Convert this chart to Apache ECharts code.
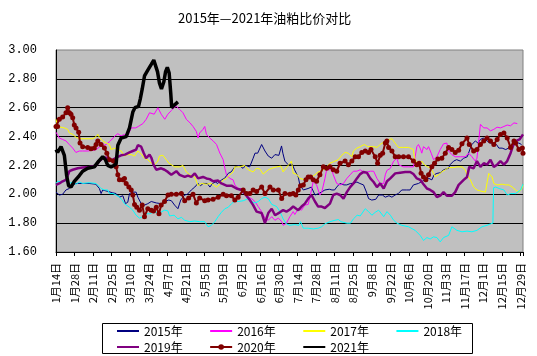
<!DOCTYPE html>
<html><head><meta charset="utf-8">
<script src="https://cdn.jsdelivr.net/npm/echarts/dist/echarts.min.js"></script>
<style>html,body{margin:0;padding:0;background:#fff}#c{width:537px;height:356px}</style>
</head><body><div id="c"></div>
<script>
// x values are days counted from 1月14日 (leap-year calendar), ticks every 14 days
const tickLabels = ['1月14日','1月28日','2月11日','2月25日','3月10日','3月24日','4月7日','4月21日','5月5日','5月19日','6月2日','6月16日','6月30日','7月14日','7月28日','8月11日','8月25日','9月8日','9月22日','10月6日','10月20日','11月3日','11月17日','12月1日','12月15日','12月29日'];
const yTicks = [1.6, 1.8, 2.0, 2.2, 2.4, 2.6, 2.8, 3.0];
const names = ['2015年','2016年','2017年','2018年','2019年','2020年','2021年'];

const s2015 = [[0,2.015],[2.5,1.995],[5,2.0],[7.5,2.03],[10,2.04],[12.6,2.065],[15,2.075],[20,2.075],[25,2.075],[30,2.07],[32.7,2.04],[34,2.005],[35.2,2.03],[39,2.02],[42.8,2.01],[45.3,2.005],[47.8,1.98],[50.4,1.99],[52.4,1.935],[54.1,1.945],[55.4,2.005],[57.9,2.015],[60.4,2.015],[61.7,1.98],[64.2,1.935],[66.7,1.925],[69.2,1.935],[71.8,1.95],[75.6,1.94],[79.3,1.935],[81.8,1.95],[85,1.96],[87,1.955],[89.4,1.925],[91.9,1.90],[94,1.96],[97,1.995],[99,2.0],[102,2.03],[104.6,2.05],[107,2.075],[109,2.06],[111,2.075],[114,2.075],[116,2.05],[118,2.075],[120,2.085],[122,2.075],[124.7,2.10],[127,2.11],[129.8,2.145],[132,2.155],[134.8,2.19],[138,2.20],[141,2.18],[143,2.20],[146,2.19],[148.6,2.25],[150,2.285],[152,2.285],[155,2.345],[157.5,2.30],[160,2.265],[162.6,2.25],[165,2.275],[168,2.27],[170,2.335],[171,2.285],[172,2.275],[172.5,2.23],[175,2.205],[178,2.21],[179.8,2.17],[182.6,2.12],[183.8,2.065],[186.4,2.03],[190,2.04],[192.5,2.05],[195.2,1.995],[198,2.005],[200,2.015],[202.7,2.03],[206,2.035],[208,2.03],[210,2.03],[211.6,2.05],[214,2.075],[217,2.065],[219.2,2.065],[222,2.075],[224.2,2.075],[226.8,2.085],[229,2.075],[231.8,2.065],[234,2.015],[235.6,1.97],[238,1.96],[241,1.965],[243.2,1.995],[246,1.995],[248.2,1.98],[251,1.99],[253.2,1.98],[255.6,1.995],[258,2.005],[260.6,2.03],[264,2.03],[266.9,2.03],[269.4,2.065],[273.2,2.075],[276,2.09],[278.3,2.10],[281,2.11],[282,2.10],[283.3,2.10],[285,2.135],[287.1,2.145],[290,2.15],[292.1,2.17],[295.9,2.18],[297,2.205],[299.7,2.23],[302,2.24],[304.8,2.23],[307.3,2.25],[310,2.26],[312.3,2.32],[313.5,2.345],[316.1,2.37],[318,2.355],[319.9,2.38],[322,2.39],[324.9,2.37],[327,2.355],[330,2.355],[332,2.345],[333.8,2.32],[336.3,2.32],[339,2.31],[341,2.32],[344,2.345],[346,2.355],[348.9,2.355],[350.9,2.345]];

const s2016 = [[0,2.43],[1,2.415],[2.5,2.39],[5,2.38],[7.5,2.37],[10,2.345],[12.6,2.32],[15,2.29],[17.6,2.30],[20,2.30],[24,2.30],[28,2.305],[30.2,2.31],[33,2.33],[37.8,2.345],[41,2.37],[44,2.40],[46.6,2.42],[49,2.405],[51.6,2.415],[54,2.405],[56.7,2.46],[60,2.46],[62,2.47],[65.5,2.49],[68,2.52],[70.5,2.565],[74,2.555],[76.8,2.60],[79.3,2.555],[82,2.52],[84.3,2.555],[86.9,2.58],[89,2.60],[90.7,2.61],[93,2.59],[95.7,2.565],[98.2,2.52],[101,2.495],[103.3,2.47],[105.8,2.435],[107.1,2.39],[108.3,2.425],[110.8,2.45],[112.1,2.47],[113.4,2.415],[115.9,2.39],[118.4,2.37],[121,2.345],[123.5,2.285],[126,2.24],[127.3,2.18],[128.5,2.135],[131,2.11],[133.5,2.10],[134.8,2.065],[137.3,2.04],[139.8,2.04],[142.3,2.015],[144.9,1.98],[147.4,1.97],[149.9,1.95],[152.4,1.915],[155,1.88],[157.5,1.835],[160,1.82],[162.6,1.845],[165,1.82],[167.6,1.835],[170.1,1.81],[171.2,1.785],[173.7,1.80],[176.3,1.845],[178.8,1.88],[180,1.86],[182.6,1.90],[185,1.89],[187.6,1.925],[190.1,1.93],[192.6,2.03],[193.9,2.09],[196.4,2.065],[198.9,1.995],[200.2,2.01],[202.7,2.11],[204,2.17],[205.2,2.18],[207.8,2.17],[209,2.135],[211.6,2.075],[214.1,2.065],[216.7,2.075],[219.2,2.11],[221.7,2.135],[224.2,2.16],[226.8,2.16],[229.3,2.17],[233.1,2.145],[234.8,2.155],[237,2.16],[239.4,2.16],[241.9,2.11],[244.4,2.075],[247,2.075],[248.2,2.135],[249.4,2.165],[252,2.18],[254.5,2.23],[257,2.25],[258.3,2.205],[261.9,2.19],[265.7,2.19],[269.4,2.19],[270.7,2.26],[272,2.33],[273.2,2.345],[274.5,2.32],[275.7,2.285],[277,2.33],[279.6,2.31],[280.8,2.33],[282.8,2.285],[284.6,2.24],[287.1,2.26],[289.6,2.31],[292.1,2.35],[294.6,2.355],[295.9,2.30],[298.4,2.275],[300.9,2.26],[304.8,2.26],[308.5,2.26],[311,2.285],[313.5,2.26],[316.1,2.23],[317.3,2.25],[319.9,2.485],[322.4,2.46],[324.9,2.46],[327.5,2.44],[330,2.45],[332.5,2.465],[335,2.46],[337.6,2.47],[340.1,2.48],[342.6,2.475],[345.2,2.495],[347.7,2.49]];

const s2017 = [[0,2.52],[1.2,2.47],[3.8,2.465],[6.3,2.46],[8.8,2.45],[10.1,2.425],[12.6,2.415],[15.1,2.395],[17.6,2.385],[22,2.385],[27.7,2.385],[30.2,2.40],[31.5,2.415],[32.7,2.395],[35.2,2.37],[37.8,2.355],[40.3,2.345],[41.5,2.31],[44,2.32],[46.6,2.31],[49.1,2.30],[51.6,2.265],[54,2.275],[56.7,2.275],[59.2,2.265],[61.7,2.30],[64.2,2.28],[66.7,2.25],[69.2,2.24],[71.8,2.215],[74.3,2.205],[76.8,2.23],[78,2.265],[80.6,2.27],[83.1,2.24],[85.1,2.215],[86.9,2.205],[89.4,2.19],[93.2,2.19],[95.7,2.20],[98.2,2.155],[100.8,2.135],[104.6,2.12],[107.1,2.06],[109.6,2.075],[113.4,2.07],[117.1,2.075],[120.9,2.05],[123.5,2.07],[126,2.10],[128.5,2.11],[131,2.135],[133.5,2.155],[134.8,2.19],[138.6,2.19],[142.3,2.20],[144.9,2.17],[148.6,2.155],[151.2,2.18],[153.7,2.175],[156.2,2.14],[160,2.17],[162.6,2.18],[166.3,2.19],[169.5,2.195],[171.2,2.155],[173.7,2.185],[176.3,2.215],[177.5,2.23],[178.8,2.145],[181.3,2.14],[183.8,2.11],[187.6,2.10],[190.1,2.11],[192.6,2.12],[195.2,2.135],[197.6,2.155],[200.2,2.16],[204,2.19],[206.5,2.215],[209,2.225],[212.8,2.24],[215.4,2.27],[217.9,2.29],[220.4,2.285],[223,2.26],[224.2,2.30],[226.8,2.32],[229.3,2.33],[232.4,2.345],[235,2.33],[239.4,2.33],[241.9,2.325],[244.4,2.345],[248.2,2.37],[250.7,2.38],[253.2,2.385],[255.6,2.355],[258.1,2.325],[261.9,2.325],[265.7,2.325],[269.4,2.31],[270.2,2.25],[272,2.215],[274.5,2.215],[275.7,2.23],[277.6,2.205],[280.1,2.19],[282.6,2.18],[284.6,2.145],[285.8,2.12],[288.3,2.135],[290.8,2.155],[293.4,2.17],[295.9,2.185],[299.7,2.185],[302.2,2.19],[306,2.19],[308.5,2.17],[309.8,2.135],[312.3,2.10],[314.8,2.05],[317.3,2.03],[321.1,2.02],[323.7,2.015],[325,2.085],[326.2,2.145],[328.7,2.12],[330,2.075],[332.5,2.065],[336.3,2.07],[338.8,2.065],[341.4,2.065],[343.9,2.05],[346.4,2.03],[348.9,2.015],[350.9,2.035],[352,2.065]];

const s2018 = [[0,2.075],[1.2,2.09],[2.5,2.10],[5,2.085],[7.5,2.095],[10.1,2.075],[12.6,2.085],[15.1,2.07],[17.6,2.085],[20.1,2.075],[25,2.08],[30.2,2.075],[31.5,2.065],[34,2.04],[36.5,2.03],[39,2.03],[40.3,2.005],[43,2.005],[45.3,1.995],[47.8,1.98],[50,1.96],[51.6,1.935],[55.4,1.91],[57.9,1.89],[60.4,1.855],[62.9,1.835],[65.5,1.845],[68,1.865],[70.5,1.865],[73,1.875],[76,1.875],[79,1.875],[81.8,1.89],[84.3,1.885],[85.6,1.85],[89,1.855],[91.9,1.83],[94.5,1.84],[97,1.82],[100.8,1.81],[104.6,1.815],[108.3,1.81],[112.1,1.81],[114.6,1.775],[117.1,1.785],[119.7,1.81],[122.2,1.845],[124.7,1.875],[127.3,1.90],[129.8,1.91],[132.3,1.935],[134.8,1.955],[137.3,1.95],[141.1,1.955],[144.9,1.97],[147.4,1.95],[149.9,1.94],[152.4,1.95],[155,1.97],[157.5,1.98],[160,1.97],[162.6,1.93],[166.3,1.915],[168.8,1.88],[170.5,1.845],[171.2,1.83],[173.7,1.795],[176.3,1.785],[180,1.79],[183,1.785],[184.3,1.81],[186.4,1.765],[190.1,1.765],[193.9,1.76],[197.6,1.765],[200.2,1.775],[202.7,1.795],[206.5,1.81],[210.3,1.82],[212.8,1.825],[214.9,1.81],[219.2,1.80],[222,1.80],[224.2,1.83],[227,1.855],[229.3,1.85],[233.1,1.90],[235.6,1.88],[238.1,1.855],[240.6,1.875],[243.2,1.89],[247,1.845],[249.5,1.88],[252,1.855],[254.5,1.82],[257,1.80],[260.6,1.785],[265.7,1.775],[270.7,1.75],[274.5,1.715],[277,1.68],[279.6,1.70],[282,1.69],[284.6,1.705],[287.1,1.70],[289.6,1.67],[292.1,1.70],[295.9,1.715],[298.4,1.775],[302.2,1.75],[306,1.74],[309.8,1.745],[313.5,1.74],[317.3,1.75],[321.1,1.775],[324.9,1.785],[327.5,1.795],[329.3,1.80],[329.8,2.045],[331.5,2.05],[334,2.04],[337.6,2.03],[340.1,1.995],[342.6,2.005],[346.4,2.005],[350.2,2.03],[352,2.07]];

const s2019 = [[0,2.065],[2.5,2.075],[5,2.09],[7.5,2.10],[8.8,2.11],[10.1,2.16],[12.6,2.17],[16.4,2.18],[20.1,2.185],[25.2,2.19],[30.2,2.20],[32.7,2.23],[35.2,2.25],[37.8,2.255],[40.3,2.24],[43,2.24],[46.6,2.26],[49.1,2.27],[52,2.275],[55.4,2.29],[57.9,2.30],[60.4,2.31],[61.7,2.34],[64.2,2.33],[66.2,2.285],[67.9,2.25],[70.5,2.275],[72,2.25],[73.5,2.205],[75.6,2.17],[79.3,2.18],[81.8,2.17],[84.3,2.155],[86.9,2.135],[90.7,2.16],[93.2,2.135],[97,2.12],[99.5,2.13],[102,2.12],[104.6,2.145],[107.1,2.11],[110.8,2.12],[113.4,2.11],[115.9,2.105],[118.4,2.09],[122.2,2.095],[124.7,2.075],[128.5,2.06],[132.3,2.06],[136,2.04],[139.8,2.03],[142.3,2.005],[144,1.985],[146.1,1.96],[148.6,1.925],[151.2,1.88],[155,1.87],[157.5,1.80],[160,1.87],[162.6,1.90],[165.1,1.855],[168.7,1.875],[171.2,1.89],[173.7,1.88],[176.3,1.895],[178.8,1.915],[182.6,1.89],[185.1,1.915],[187.6,1.935],[190.1,1.97],[192.6,1.995],[195.2,1.95],[197.6,1.915],[200.2,1.915],[202.7,1.905],[206.5,1.935],[209,1.995],[211.6,2.005],[214.1,1.995],[216.7,1.97],[219.2,2.015],[221.7,2.05],[224.2,2.075],[226.8,2.11],[229.3,2.14],[231.8,2.155],[234.3,2.15],[236.9,2.11],[239.4,2.085],[241.9,2.05],[244.4,2.075],[247,2.04],[249.5,2.09],[252,2.11],[255.7,2.145],[259.4,2.15],[263.2,2.155],[267,2.155],[269.4,2.14],[272,2.11],[274.5,2.10],[277,2.07],[279.6,2.04],[282.1,2.03],[284.6,2.015],[287.1,1.98],[289.6,1.99],[292.1,2.015],[294.6,1.99],[298.4,1.99],[300.9,2.015],[303.5,2.065],[307.3,2.10],[309.8,2.12],[311.5,2.19],[314.8,2.18],[317.3,2.23],[319.9,2.19],[322.4,2.215],[324.9,2.205],[327.5,2.24],[330,2.19],[332.5,2.205],[335,2.23],[337.6,2.205],[340.1,2.23],[342.6,2.285],[345.2,2.355],[346.9,2.37],[349.4,2.38],[352,2.415]];

const s2020 = [[0,2.47],[1.2,2.47],[2.5,2.52],[5,2.535],[7.5,2.565],[8.8,2.60],[10.1,2.565],[11.3,2.555],[12.6,2.53],[13.8,2.48],[15.1,2.46],[17.1,2.43],[18.1,2.355],[20.1,2.33],[23.9,2.325],[26.4,2.315],[28.9,2.32],[30.2,2.345],[31.5,2.37],[34,2.345],[36.5,2.32],[38.3,2.285],[40.3,2.24],[43.3,2.23],[45.3,2.19],[46.6,2.135],[47.8,2.10],[50.4,2.10],[51.6,2.11],[52.9,2.075],[54.9,2.05],[56.7,2.03],[57.9,1.995],[59.2,1.93],[60.9,1.91],[62.9,1.89],[65,1.925],[66.7,1.845],[69.2,1.90],[71.8,1.89],[73.5,1.885],[75.6,1.91],[77.6,1.865],[79.3,1.925],[81.8,1.95],[84.4,1.995],[86.9,2.0],[90.7,2.0],[94.5,2.005],[97,1.955],[100,1.975],[103.3,2.0],[105.8,1.94],[108.3,1.975],[112.1,1.955],[114.6,1.96],[118.4,1.965],[122.2,1.98],[126,2.0],[128.5,1.99],[132.2,1.99],[134.8,1.96],[137.3,1.98],[141.1,2.03],[143.6,2.005],[146.1,2.005],[148.6,2.03],[151.2,2.02],[155,2.05],[157.5,2.005],[161.3,2.05],[163.8,2.03],[167.6,2.03],[170.1,1.97],[172.6,2.005],[176.3,2.0],[178.8,2.005],[180.8,1.995],[182.6,2.03],[184.3,2.06],[186.4,2.065],[188.4,2.10],[190.1,2.12],[191.9,2.12],[193.9,2.10],[196.4,2.09],[198.9,2.135],[201.5,2.19],[204,2.18],[206.5,2.19],[209,2.17],[211.6,2.16],[214.1,2.215],[217.9,2.23],[220.4,2.205],[223,2.23],[225.5,2.26],[228,2.26],[230.5,2.29],[233.1,2.30],[235.6,2.29],[237.4,2.31],[240.6,2.26],[242.4,2.215],[244.4,2.27],[246.2,2.285],[248.2,2.355],[249.4,2.37],[250.7,2.325],[253.2,2.30],[255.7,2.26],[258.3,2.26],[261.9,2.26],[265.7,2.26],[269.4,2.23],[272,2.205],[273.7,2.215],[275.2,2.145],[277,2.12],[278.8,2.10],[280.8,2.135],[283.3,2.19],[285.3,2.215],[287.8,2.245],[290.8,2.25],[293.4,2.285],[295.9,2.325],[298.4,2.31],[300.9,2.29],[303.5,2.305],[306,2.35],[309.8,2.39],[311.5,2.345],[314.8,2.30],[317.3,2.31],[319.9,2.345],[322.4,2.37],[324.9,2.39],[327.5,2.37],[330,2.345],[332.5,2.38],[335,2.415],[337.6,2.425],[340.1,2.39],[342.6,2.325],[345.2,2.37],[346.4,2.355],[348.9,2.31],[351.5,2.32],[352,2.285]];

const s2021 = [[0,2.31],[1.2,2.29],[3.8,2.33],[5,2.32],[6.3,2.27],[8,2.13],[9.5,2.06],[11.3,2.05],[13.8,2.09],[17.6,2.13],[20.1,2.16],[23.9,2.18],[28.9,2.19],[32.2,2.23],[35.2,2.26],[37.2,2.24],[39,2.20],[41.5,2.19],[43.5,2.20],[45.3,2.21],[46.6,2.34],[49.1,2.39],[52.9,2.40],[55.4,2.46],[57.9,2.57],[59.5,2.60],[62.2,2.61],[63.5,2.66],[65,2.73],[66.7,2.82],[69.2,2.86],[71.8,2.90],[73.7,2.93],[75,2.92],[76.5,2.85],[78,2.77],[79.5,2.73],[81.3,2.78],[82.6,2.85],[83.9,2.88],[85.3,2.84],[86.5,2.70],[87.2,2.60],[89.4,2.62],[91.9,2.64]];

const colors = ['#000080','#FF00FF','#FFFF00','#00FFFF','#800080','#800000','#000000'];
const widths = [1,1,1,1,2.5,2,3.5];
const datasets = [s2015,s2016,s2017,s2018,s2019,s2020,s2021];
const markerSeries = 5;

const cjk = 'Noto Sans CJK SC';
const chart = echarts.init(document.getElementById('c'), null, {renderer:'canvas'});
function legendItems(list){
  return list.map(function(n){
    const k = names.indexOf(n);
    return k === markerSeries ? {name:n} : {name:n, itemStyle:{color:'rgba(0,0,0,0)', borderWidth:0, opacity:0}};
  });
}
const legendBase = {
  orient:'horizontal', padding:0, itemWidth:22, itemHeight:7, itemGap:26.5,
  textStyle:{fontSize:12, color:'#000', fontFamily:cjk}
};
chart.setOption({
  animation:false,
  backgroundColor:'#fff',
  title:{text:'2015年—2021年油粕比价对比', left:173, top:7,
    textStyle:{fontSize:13, fontWeight:'normal', color:'#000', fontFamily:cjk}},
  grid:{left:56, right:14, top:50, bottom:104, show:true, backgroundColor:'#C0C0C0', borderColor:'#808080', borderWidth:1},
  graphic:[{type:'rect', left:102, top:323, z:1, shape:{width:370, height:30},
    style:{fill:'#fff', stroke:'#000', lineWidth:1}}],
  legend:[
    Object.assign({data:legendItems(names.slice(0,4)), left:116, top:325}, legendBase),
    Object.assign({data:legendItems(names.slice(4)), left:116, top:341}, legendBase)
  ],
  xAxis:{type:'value', min:0, max:352, interval:14,
    axisLine:{lineStyle:{color:'#000', width:1}},
    axisTick:{show:true, length:4, lineStyle:{color:'#000'}},
    splitLine:{show:false},
    axisLabel:{rotate:90, margin:11, fontSize:11, color:'#000', fontFamily:cjk,
      formatter:function(v){ const i = Math.round(v/14); return (Math.abs(v - i*14) < 1e-6 && i < tickLabels.length) ? tickLabels[i] : ''; }}
  },
  yAxis:{type:'value', min:yTicks[0], max:yTicks[yTicks.length-1], interval:0.2,
    axisLine:{show:true, lineStyle:{color:'#000', width:1}},
    axisTick:{show:false},
    splitLine:{show:true, showMaxLine:false, lineStyle:{color:'#000', width:1}},
    axisLabel:{margin:19, fontSize:12, color:'#000', fontFamily:'Liberation Mono',
      formatter:function(v){ return v.toFixed(2); }}
  },
  series: names.map(function(n, k){
    const isMark = (k === markerSeries);
    return {
      name:n, type:'line', data:datasets[k], smooth:false,
      symbol: isMark ? 'circle' : 'none', symbolSize: isMark ? 5 : 0,
      showSymbol:isMark, showAllSymbol:true,
      lineStyle:{color:colors[k], width:widths[k]},
      itemStyle:{color:colors[k], borderWidth:0},
      z: 2 + k
    };
  })
});
</script></body></html>
